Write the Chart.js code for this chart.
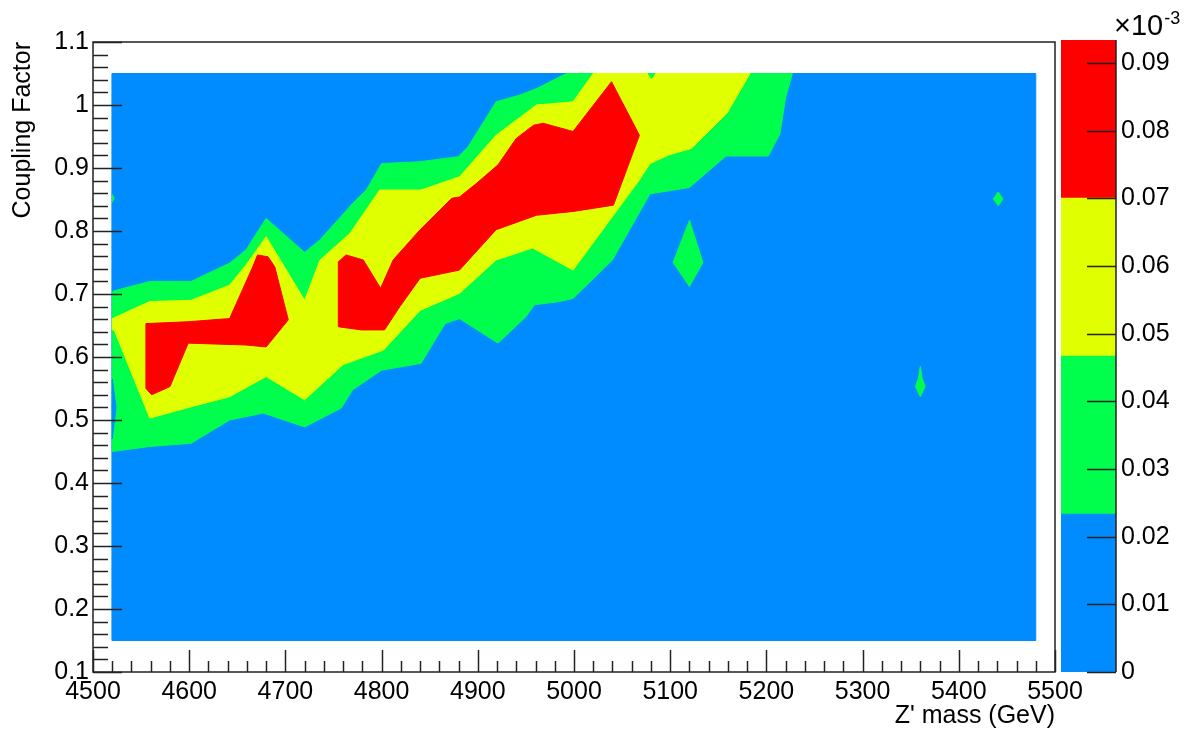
<!DOCTYPE html>
<html>
<head>
<meta charset="utf-8">
<title>Coupling Factor vs Z' mass</title>
<script src="https://cdn.jsdelivr.net/npm/chart.js@4.4.1/dist/chart.umd.min.js"></script>
<style>
  html, body { margin: 0; padding: 0; background: #fff; }
  #wrap { position: relative; width: 1184px; height: 735px; }
  #contour { position: absolute; left: 0; top: 0; }
  #palette { position: absolute; left: 1040px; top: 0; }
</style>
</head>
<body>
<div id="wrap">
  <canvas id="contour" width="1184" height="735"></canvas>
  <canvas id="palette" width="144" height="735"></canvas>
</div>
<script>
// contour levels of the cross section, in units of 1e-3
const levels = [0, 0.02335, 0.0467, 0.07005, 0.0934];
const levelColors = ['#008cff', '#00ff4c', '#e0ff00', '#ff0000'];

// axis ticks
const xTicks = [4500, 4600, 4700, 4800, 4900, 5000, 5100, 5200, 5300, 5400, 5500];
const yTicks = [0.1, 0.2, 0.3, 0.4, 0.5, 0.6, 0.7, 0.8, 0.9, 1, 1.1];
const zTicks = [0, 0.01, 0.02, 0.03, 0.04, 0.05, 0.06, 0.07, 0.08, 0.09];

// scanned grid: [mass, coupling]
const scanArea = [[4520, 0.15], [5480, 0.15], [5480, 1.05], [4520, 1.05]];

// region above levels[1]
const greenBand = [
  [4520, 0.703], [4522, 0.705], [4559, 0.720], [4602, 0.720], [4642, 0.749], [4659, 0.770],
  [4680, 0.820], [4720, 0.766], [4736, 0.786], [4770, 0.844], [4784, 0.865], [4800, 0.907],
  [4840, 0.910], [4880, 0.918], [4890, 0.934], [4919, 1.005], [4944, 1.016], [4961, 1.026],
  [4992, 1.05], [5227, 1.05], [5220, 1.012], [5214, 0.954], [5202, 0.919], [5158, 0.919],
  [5120, 0.869], [5079, 0.859], [5040, 0.754], [4999, 0.693], [4985, 0.688], [4959, 0.683],
  [4950, 0.664], [4921, 0.622], [4881, 0.661], [4866, 0.653], [4841, 0.590], [4800, 0.579],
  [4770, 0.548], [4758, 0.519], [4720, 0.489], [4677, 0.511], [4642, 0.500], [4602, 0.463],
  [4559, 0.458], [4520, 0.450]
];
const greenSpots = [
  [[5120, 0.817], [5134, 0.750], [5120, 0.712], [5103, 0.750]],
  [[5360, 0.585], [5362, 0.566], [5365, 0.553], [5360, 0.537], [5355, 0.553], [5358, 0.566]],
  [[5441, 0.862], [5446, 0.851], [5441, 0.840], [5436, 0.851]],
  [[4520, 0.858], [4522, 0.852], [4520, 0.846]],
  [[5077, 1.05], [5080.5, 1.042], [5084, 1.05]]
];
// small dip below levels[1] on the low-mass edge
const blueGap = [[4520, 0.565], [4524, 0.52], [4520, 0.47]];

// region above levels[2]
const yellowBand = [
  [4520, 0.661], [4559, 0.688], [4602, 0.690], [4642, 0.714], [4659, 0.746], [4680, 0.791],
  [4720, 0.690], [4736, 0.754], [4767, 0.796], [4798, 0.865], [4841, 0.865], [4881, 0.886],
  [4919, 0.952], [4961, 1.000], [4999, 1.005], [5020, 1.05], [5183, 1.05], [5169, 1.013],
  [5159, 0.987], [5122, 0.931], [5099, 0.921], [5079, 0.907], [5068, 0.881], [5040, 0.823],
  [4999, 0.738], [4957, 0.773], [4919, 0.754], [4881, 0.701], [4840, 0.674], [4802, 0.611],
  [4760, 0.588], [4720, 0.532], [4680, 0.569], [4642, 0.537], [4602, 0.521], [4559, 0.503],
  [4522, 0.643], [4520, 0.643]
];

// regions above levels[3]
const redLeft = [
  [4555, 0.653], [4599, 0.656], [4642, 0.661], [4666, 0.743], [4671, 0.762], [4682, 0.759],
  [4689, 0.743], [4703, 0.659], [4680, 0.616], [4659, 0.619], [4599, 0.622], [4580, 0.553],
  [4561, 0.540], [4555, 0.550]
];
const redMain = [
  [4755, 0.751], [4763, 0.762], [4781, 0.754], [4799, 0.709], [4812, 0.754], [4840, 0.802],
  [4873, 0.852], [4881, 0.854], [4899, 0.876], [4921, 0.905], [4940, 0.947], [4958, 0.968],
  [4968, 0.971], [4999, 0.958], [5039, 1.037], [5068, 0.952], [5041, 0.841], [4999, 0.831],
  [4961, 0.825], [4919, 0.802], [4881, 0.738], [4840, 0.725], [4819, 0.680], [4803, 0.643],
  [4779, 0.643], [4755, 0.648]
];

const FONT = "'Liberation Sans', Arial, Helvetica, sans-serif";
Chart.defaults.font.family = FONT;
Chart.defaults.color = '#000';

// closed filled polygon; lower order is painted later (on top)
function polygon(points, color, order) {
  const data = points.map(p => ({ x: p[0], y: p[1] }));
  data.push(data[0]);
  return {
    data: data,
    showLine: true,
    fill: 'shape',
    backgroundColor: color,
    borderColor: color,
    borderWidth: 1,
    pointRadius: 0,
    tension: 0,
    order: order
  };
}

const datasets = [
  polygon(scanArea, levelColors[0], 6),
  polygon(greenBand, levelColors[1], 5),
  polygon(blueGap, levelColors[0], 4),
  polygon(yellowBand, levelColors[2], 3),
  polygon(redLeft, levelColors[3], 1),
  polygon(redMain, levelColors[3], 1)
];
greenSpots.forEach(s => datasets.push(polygon(s, levelColors[1], 2)));

// frame plus inward major/minor ticks
const frameTicks = {
  id: 'frameTicks',
  afterDraw(chart) {
    const { ctx, chartArea: a, scales: { x, y } } = chart;
    ctx.save();
    ctx.strokeStyle = '#222';
    ctx.lineWidth = 1.5;
    ctx.strokeRect(a.left, a.top, a.right - a.left, a.bottom - a.top);
    ctx.beginPath();
    const xStep = (xTicks[1] - xTicks[0]) / 5;
    for (let i = 0; i <= (xTicks.length - 1) * 5; i++) {
      const px = Math.round(x.getPixelForValue(xTicks[0] + i * xStep)) + 0.5;
      const len = i % 5 === 0 ? 22 : 11;
      ctx.moveTo(px, a.bottom);
      ctx.lineTo(px, a.bottom - len);
    }
    const yStep = (yTicks[1] - yTicks[0]) / 5;
    for (let i = 0; i <= (yTicks.length - 1) * 5; i++) {
      const py = Math.round(y.getPixelForValue(yTicks[0] + i * yStep)) + 0.5;
      const len = i % 5 === 0 ? 29 : 15;
      ctx.moveTo(a.left, py);
      ctx.lineTo(a.left + len, py);
    }
    ctx.stroke();
    ctx.restore();
  }
};

new Chart(document.getElementById('contour'), {
  type: 'scatter',
  data: { datasets: datasets },
  plugins: [frameTicks],
  options: {
    responsive: false,
    animation: false,
    events: [],
    layout: { padding: { left: 0, top: 42, right: 129, bottom: 0 } },
    plugins: { legend: { display: false }, tooltip: { enabled: false } },
    scales: {
      x: {
        type: 'linear',
        min: xTicks[0],
        max: xTicks[xTicks.length - 1],
        grid: { display: false, drawTicks: false },
        border: { display: false },
        afterBuildTicks: s => { s.ticks = xTicks.map(v => ({ value: v })); },
        afterFit: s => { s.height = 63; },
        ticks: { padding: 5, maxRotation: 0, autoSkip: false, font: { size: 25 }, callback: v => String(v) },
        title: { display: true, text: "Z' mass (GeV)", align: 'end', font: { size: 25 }, padding: { top: 0, bottom: 4 } }
      },
      y: {
        type: 'linear',
        min: yTicks[0],
        max: yTicks[yTicks.length - 1],
        grid: { display: false, drawTicks: false },
        border: { display: false },
        afterBuildTicks: s => { s.ticks = yTicks.map(v => ({ value: v })); },
        afterFit: s => { s.width = 93; },
        ticks: { padding: 4, autoSkip: false, font: { size: 25 }, callback: v => String(v) },
        title: { display: true, text: 'Coupling Factor', align: 'end', font: { size: 25 }, padding: { top: 8, bottom: 0 } }
      }
    }
  }
});

// colour scale: axis line on the right, ticks pointing into the bar, exponent on top
const paletteAxis = {
  id: 'paletteAxis',
  afterDraw(chart) {
    const { ctx, chartArea: a, scales: { y } } = chart;
    ctx.save();
    ctx.strokeStyle = '#222';
    ctx.lineWidth = 1.5;
    ctx.beginPath();
    ctx.moveTo(a.right, a.top);
    ctx.lineTo(a.right, a.bottom);
    zTicks.forEach(v => {
      const py = Math.round(y.getPixelForValue(v)) + 0.5;
      ctx.moveTo(a.right, py);
      ctx.lineTo(a.right - 29, py);
    });
    ctx.stroke();
    ctx.fillStyle = '#000';
    ctx.textBaseline = 'alphabetic';
    ctx.font = '29px ' + FONT;
    ctx.fillText('\u00d710', a.right - 2, 35);
    const w = ctx.measureText('\u00d710').width;
    ctx.font = '18px ' + FONT;
    ctx.fillText('-3', a.right - 1 + w, 24);
    ctx.restore();
  }
};

new Chart(document.getElementById('palette'), {
  type: 'bar',
  data: {
    labels: [''],
    datasets: levelColors.map((c, i) => ({
      data: [[levels[i], levels[i + 1]]],
      backgroundColor: c,
      borderWidth: 0,
      grouped: false,
      barPercentage: 1,
      categoryPercentage: 1
    }))
  },
  plugins: [paletteAxis],
  options: {
    responsive: false,
    animation: false,
    events: [],
    layout: { padding: { left: 21, top: 40, right: 0, bottom: 63 } },
    plugins: { legend: { display: false }, tooltip: { enabled: false } },
    scales: {
      x: { display: false },
      y: {
        position: 'right',
        min: levels[0],
        max: levels[levels.length - 1],
        grid: { display: false, drawTicks: false },
        border: { display: false },
        afterBuildTicks: s => { s.ticks = zTicks.map(v => ({ value: v })); },
        afterFit: s => { s.width = 68; },
        ticks: { padding: 5, autoSkip: false, font: { size: 25 }, callback: v => String(v) }
      }
    }
  }
});
</script>
</body>
</html>
